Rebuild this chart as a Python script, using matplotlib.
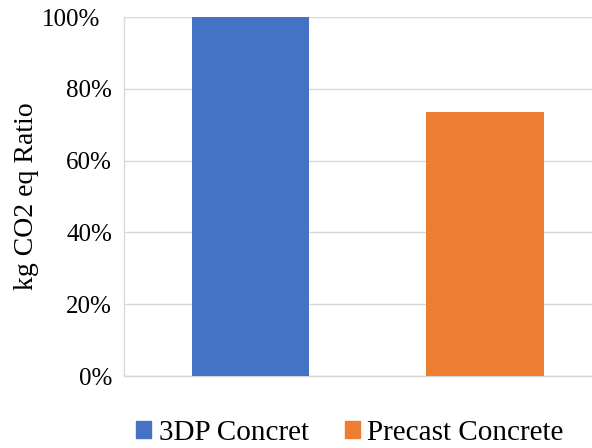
import matplotlib
matplotlib.use("Agg")
import matplotlib.pyplot as plt
from matplotlib.ticker import PercentFormatter
from matplotlib.patches import Patch
from matplotlib.transforms import ScaledTranslation

categories = ["3DP Concret", "Precast Concrete"]
values = [1.00, 0.735]
colors = ["#4472C4", "#ED7D31"]
yticks = [0, 0.2, 0.4, 0.6, 0.8, 1.0]

plt.rcParams['font.family'] = ['Liberation Serif', 'DejaVu Serif']

W, H = 592, 448
fig = plt.figure(figsize=(W/100, H/100), dpi=100)
left, right, top, bottom = 124, 592, 17, 376
ax = fig.add_axes([left/W, 1 - bottom/H, (right-left)/W, (bottom-top)/H])

x = list(range(len(categories)))
ax.bar(x, values, width=0.5, color=colors, zorder=3)
ax.set_xlim(-0.539, 1.456)
ax.set_ylim(0, 1.0)
ax.set_yticks(yticks)
ax.yaxis.set_major_formatter(PercentFormatter(1.0, decimals=0))
ax.set_xticks([])
ax.grid(axis='y', color='#d9d9d9', linewidth=1.0, zorder=0)
ax.tick_params(axis='y', length=0, labelsize=18, pad=8.6)
for s in ['top', 'right']:
    ax.spines[s].set_visible(False)
for s in ['left', 'bottom']:
    ax.spines[s].set_color('#d9d9d9')
    ax.spines[s].set_linewidth(1.0)
ax.set_ylabel("kg CO2 eq Ratio", fontsize=20)
ax.yaxis.set_label_coords((39 - left) / (right - left), 0.5)

fig.canvas.draw()
labels = ax.get_yticklabels()
top_lab = labels[-1]
top_lab.set_transform(top_lab.get_transform() + ScaledTranslation(-0.12, 0, fig.dpi_scale_trans))

handles = [Patch(color=c) for c in colors]
fig.legend(handles, categories, loc='center', bbox_to_anchor=(350/W, 1 - 433/H),
           ncol=2, frameon=False, fontsize=21, handlelength=0.52, handleheight=0.52,
           handletextpad=0.25, columnspacing=1.25, borderpad=0, borderaxespad=0)

fig.savefig("out.png", dpi=100)
